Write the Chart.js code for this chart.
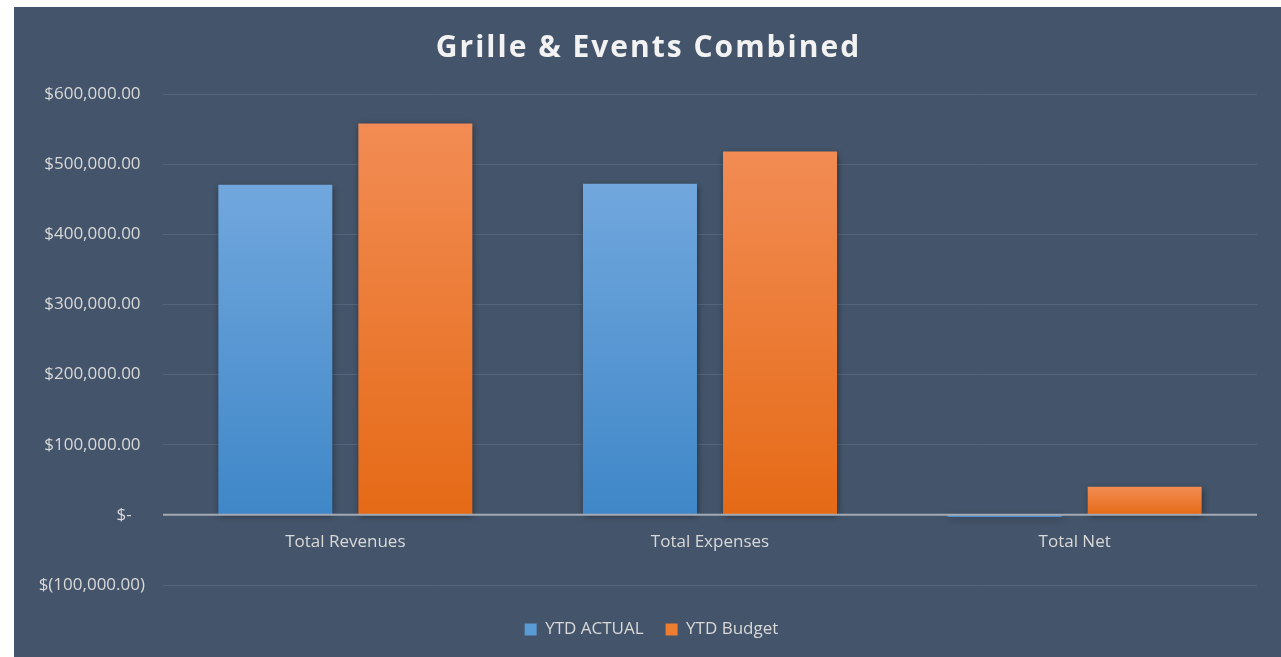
<!DOCTYPE html>
<html>
<head>
<meta charset="utf-8">
<script src="https://cdn.jsdelivr.net/npm/chart.js@4/dist/chart.umd.min.js"></script>
<style>
  html, body { margin: 0; padding: 0; background: #ffffff; }
  #wrap { position: absolute; left: 14px; top: 7px; width: 1267px; height: 650px; background: #44546a; }
  canvas { display: block; }
</style>
</head>
<body>
<div id="wrap"><canvas id="c" width="1267" height="650"></canvas></div>
<script>
const chartTitle = 'Grille & Events Combined';
const categories = ['Total Revenues', 'Total Expenses', 'Total Net'];
const ytdActual = [470500, 472000, -3000];
const ytdBudget = [558000, 518000, 40000];
const seriesNames = ['YTD ACTUAL', 'YTD Budget'];
const yTickValues = [-100000, 0, 100000, 200000, 300000, 400000, 500000, 600000];
const yTickLabels = ['$(100,000.00)', '$-', '$100,000.00', '$200,000.00', '$300,000.00', '$400,000.00', '$500,000.00', '$600,000.00'];

const FONT = '"Open Sans", "DejaVu Sans", sans-serif';
const TEXT = '#d9d9d9';

function barGradient(top, bottom) {
  return function (ctx) {
    const chart = ctx.chart;
    if (!chart.chartArea || ctx.type !== 'data') return top;
    const y = chart.scales.y;
    const v = ctx.raw;
    const y1 = y.getPixelForValue(Math.max(v, 0));
    const y2 = y.getPixelForValue(Math.min(v, 0));
    if (!isFinite(y1) || !isFinite(y2) || Math.abs(y2 - y1) < 1) return top;
    const g = chart.ctx.createLinearGradient(0, y1, 0, y2);
    g.addColorStop(0, top);
    g.addColorStop(1, bottom);
    return g;
  };
}

const shadowPlugin = {
  id: 'barShadow',
  beforeDatasetsDraw(chart) {
    const c = chart.ctx;
    c.save();
    c.shadowColor = 'rgba(0,0,0,0.45)';
    c.shadowBlur = 7;
    c.shadowOffsetX = 1;
    c.shadowOffsetY = 2;
  },
  afterDatasetsDraw(chart) {
    chart.ctx.restore();
  }
};

const zeroLinePlugin = {
  id: 'zeroLine',
  afterDatasetsDraw(chart) {
    const c = chart.ctx;
    const y = chart.scales.y.getPixelForValue(0);
    c.save();
    c.strokeStyle = '#a3aab4';
    c.lineWidth = 2;
    c.beginPath();
    c.moveTo(chart.chartArea.left, y);
    c.lineTo(chart.chartArea.right, y);
    c.stroke();
    c.restore();
  }
};

const spacedTitlePlugin = {
  id: 'spacedTitle',
  afterDraw(chart) {
    const c = chart.ctx;
    c.save();
    c.font = 'bold 30px ' + FONT;
    c.fillStyle = '#f2f2f2';
    c.textAlign = 'center';
    c.textBaseline = 'middle';
    if ('letterSpacing' in c) c.letterSpacing = '2px';
    c.fillText(chartTitle, chart.width / 2 + 1, 41);
    c.restore();
  }
};

const legendShiftPlugin = {
  id: 'legendShift',
  afterLayout(chart) {
    const l = chart.legend;
    if (l) { l.left += 16; l.right += 16; }
  }
};

new Chart(document.getElementById('c'), {
  type: 'bar',
  data: {
    labels: categories,
    datasets: [
      { label: seriesNames[0], data: ytdActual, backgroundColor: barGradient('#71a7dd', '#3f87c8'), borderWidth: 0,
        categoryPercentage: 0.768, barPercentage: 0.814 },
      { label: seriesNames[1], data: ytdBudget, backgroundColor: barGradient('#f28c54', '#e56a16'), borderWidth: 0,
        categoryPercentage: 0.768, barPercentage: 0.814 }
    ]
  },
  options: {
    responsive: false,
    animation: false,
    layout: { padding: { left: 0, right: 24, top: 87, bottom: 9 } },
    plugins: {
      title: { display: false },
      legend: {
        position: 'bottom',
        title: { display: true, text: '', padding: { top: 2, bottom: 0 }, font: { size: 10 } },
        labels: {
          color: TEXT,
          font: { family: FONT, size: 17 },
          boxWidth: 12, boxHeight: 12,
          padding: 22,
          generateLabels(chart) {
            return chart.data.datasets.map((ds, i) => ({
              text: ds.label,
              fillStyle: i === 0 ? '#5b9bd5' : '#ed7d31',
              strokeStyle: 'rgba(0,0,0,0)',
              lineWidth: 0,
              fontColor: TEXT,
              datasetIndex: i
            }));
          }
        }
      },
      tooltip: { enabled: false }
    },
    scales: {
      x: {
        position: { y: 0 },
        grid: { display: false, drawTicks: false },
        border: { display: false },
        ticks: { color: TEXT, font: { family: FONT, size: 17 }, padding: 17 }
      },
      y: {
        min: -100000,
        max: 600000,
        afterBuildTicks(scale) { scale.ticks = yTickValues.map(v => ({ value: v })); },
        afterFit(scale) { scale.width = 149; },
        grid: { color: '#56657b', lineWidth: 1, drawTicks: false },
        border: { display: false },
        ticks: {
          color: TEXT,
          font: { family: FONT, size: 17 },
          padding: 18,
          callback(value) {
            const i = yTickValues.indexOf(value);
            const s = yTickLabels[i];
            if (s.endsWith(')')) return s;
            return s === '$-' ? s + '   ' : s + ' ';
          }
        }
      }
    }
  },
  plugins: [shadowPlugin, zeroLinePlugin, spacedTitlePlugin, legendShiftPlugin]
});
</script>
</body>
</html>
